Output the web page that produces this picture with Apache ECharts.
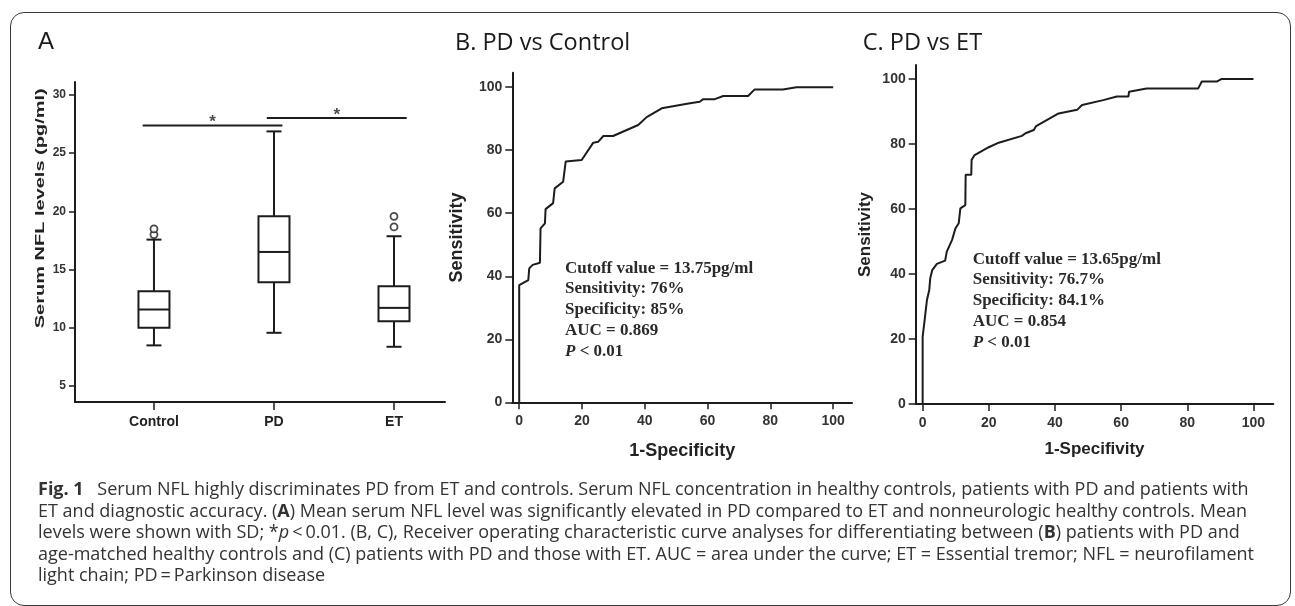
<!DOCTYPE html>
<html>
<head>
<meta charset="utf-8">
<script src="https://cdn.jsdelivr.net/npm/echarts@6/dist/echarts.min.js"></script>
<style>
  html, body { margin: 0; padding: 0; background: #fff; }
  body { width: 1295px; height: 606px; position: relative; overflow: hidden; }
  .frame {
    position: absolute; left: 10px; top: 12px; width: 1281px; height: 594px;
    border: 1px solid #3a3a3a; border-radius: 14px; box-sizing: border-box;
  }
  #chart { position: absolute; left: 0; top: 0; width: 1295px; height: 606px; }
  .caption {
    position: absolute; left: 38px; top: 478px;
    font-family: "Open Sans", "Noto Sans", sans-serif; font-size: 18px; line-height: 21.5px;
    color: #333; white-space: nowrap;
  }
  .caption b { font-weight: 700; }
</style>
</head>
<body>
<div class="frame"></div>
<div id="chart"></div>
<div class="caption">
<b>Fig. 1</b>&ensp; Serum NFL highly discriminates PD from ET and controls. Serum NFL concentration in healthy controls, patients with PD and patients with<br>
ET and diagnostic accuracy. (<b>A</b>) Mean serum NFL level was significantly elevated in PD compared to ET and nonneurologic healthy controls. Mean<br>
levels were shown with SD; *<i>p</i>&thinsp;&lt;&thinsp;0.01. (B, C), Receiver operating characteristic curve analyses for differentiating between (<b>B</b>) patients with PD and<br>
age-matched healthy controls and (C) patients with PD and those with ET. AUC = area under the curve; ET = Essential tremor; NFL = neurofilament<br>
light chain; PD&thinsp;=&thinsp;Parkinson disease
</div>
<script>
// panel A: box plot values (pg/ml)
const groups = ['Control', 'PD', 'ET'];
const whiskerLow = [8.49, 9.57, 8.37];
const q1 = [10.0, 13.91, 10.57];
const median = [11.57, 16.51, 11.71];
const q3 = [13.14, 19.57, 13.57];
const whiskerHigh = [17.57, 26.86, 17.86];
const outliers = [[1, 18.0], [1, 18.49], [3, 18.66], [3, 19.57]];
// significance bars: [from, to, level]
const sigBars = [[0.906, 2.07, 27.37], [1.94, 3.106, 28.0]];
const yTicksA = [5, 10, 15, 20, 25, 30];

// panel B / C: ROC curves [1-specificity, sensitivity]
const rocPdControl = [
  [0, 0], [0, 37.2], [2.9, 38.8], [3.2, 42.5], [4.3, 43.6], [6.6, 44.3], [6.8, 55.2],
  [8.2, 56.8], [8.4, 61.3], [10.8, 63.2], [11.3, 67.9], [14, 70], [14.8, 76.4],
  [19.9, 76.9], [23.6, 82.4], [25.2, 82.7], [26.8, 84.5], [29.9, 84.5], [37.9, 88],
  [40.6, 90.5], [45.4, 93.3], [54.4, 94.9], [57.5, 95.4], [58.6, 96.2], [62.3, 96.2],
  [65, 97.2], [72.9, 97.2], [75, 99.3], [84, 99.3], [88.3, 100], [100, 100]
];
const rocPdEt = [
  [0, 0], [0, 20.7], [0.6, 25.8], [1.3, 32], [2, 35.1], [2.3, 38.7], [2.9, 41.2],
  [4.3, 43.1], [6.8, 44.1], [7.3, 46.9], [8.9, 50.5], [9.9, 54], [10.9, 55.6],
  [11.4, 60.2], [12.9, 61.2], [13, 70.5], [14.7, 70.5], [14.8, 75.1], [15.7, 76.6],
  [20, 79], [23, 80.4], [30, 82.5], [31.1, 83.3], [33.6, 84.3], [34.3, 85.5],
  [41.1, 89.4], [46.7, 90.5], [48.2, 92], [54.6, 93.5], [58.7, 94.6], [62.2, 94.6],
  [62.4, 96.1], [67.7, 97.1], [83.3, 97.1], [84.4, 99.2], [88.9, 99.2], [90.4, 100], [100, 100]
];
const rocTicks = [0, 20, 40, 60, 80, 100];
const statsB = ['Cutoff value = 13.75pg/ml', 'Sensitivity: 76%', 'Specificity: 85%', 'AUC = 0.869', '{i|P} < 0.01'];
const statsC = ['Cutoff value = 13.65pg/ml', 'Sensitivity: 76.7%', 'Specificity: 84.1%', 'AUC = 0.854', '{i|P} < 0.01'];

const ink = '#1c1c1c';
const sans = '"Liberation Sans", Arial, sans-serif';
const serif = '"Liberation Serif", "Times New Roman", serif';

const chart = echarts.init(document.getElementById('chart'), null, { renderer: 'canvas' });

// y name of panel A is stretched along its length in the original
const nameA = 'Serum NFL levels (pg/ml)';
const ctx = document.createElement('canvas').getContext('2d');
ctx.font = 'bold 13px "Liberation Sans"';
const nameAScale = 240 / ctx.measureText(nameA).width;

const baseAxis = (extra) => Object.assign({
  type: 'value',
  splitLine: { show: false },
  axisLine: { show: true, onZero: false, lineStyle: { color: ink, width: 2 } },
  axisTick: { show: true, length: 7, lineStyle: { color: ink, width: 1.5 } },
  axisLabel: { color: '#333', fontFamily: sans, fontWeight: 'bold', fontSize: 14 }
}, extra);

const rocStats = (lines, x, y) => ({
  type: 'text', x: x, y: y, silent: true,
  style: {
    text: lines.join('\n'), fontFamily: serif, fontWeight: 'bold', fontSize: 17,
    lineHeight: 20.8, fill: '#2a2a2a', align: 'left', verticalAlign: 'top',
    rich: { i: { fontFamily: serif, fontWeight: 'bold', fontStyle: 'italic', fontSize: 17, lineHeight: 20.8, fill: '#2a2a2a' } }
  }
});

const option = {
  animation: false,
  grid: [
    { left: 75, top: 82, width: 370, height: 320 },
    { left: 512.3, top: 72.7, width: 339.7, height: 329.6 },
    { left: 915.7, top: 65, width: 357.6, height: 339 }
  ],
  xAxis: [
    baseAxis({
      gridIndex: 0, min: 0.342, max: 3.425,
      axisTick: { show: true, length: 8, customValues: [1, 2, 3], lineStyle: { color: ink, width: 1.5 } },
      axisLabel: {
        customValues: [1, 2, 3], formatter: v => groups[Math.round(v) - 1],
        color: '#222', fontFamily: sans, fontWeight: 'bold', fontSize: 14, margin: 13
      }
    }),
    baseAxis({
      gridIndex: 1, min: -2.2, max: 106,
      axisTick: { show: true, length: 7, customValues: rocTicks, lineStyle: { color: ink, width: 1.5 } },
      axisLabel: { customValues: rocTicks, color: '#333', fontFamily: sans, fontWeight: 'bold', fontSize: 14, margin: 12 },
      name: '1-Specificity', nameLocation: 'middle', nameGap: 40,
      nameTextStyle: { color: '#222', fontFamily: sans, fontWeight: 'bold', fontSize: 18 }
    }),
    baseAxis({
      gridIndex: 2, min: -2.1, max: 106,
      axisTick: { show: true, length: 7, customValues: rocTicks, lineStyle: { color: ink, width: 1.5 } },
      axisLabel: { customValues: rocTicks, color: '#333', fontFamily: sans, fontWeight: 'bold', fontSize: 14, margin: 12 },
      name: '1-Specifivity', nameLocation: 'middle', nameGap: 37,
      nameTextStyle: { color: '#222', fontFamily: sans, fontWeight: 'bold', fontSize: 17 }
    })
  ],
  yAxis: [
    baseAxis({
      gridIndex: 0, min: 3.63, max: 31.1,
      axisTick: { show: true, length: 6, customValues: yTicksA, lineStyle: { color: ink, width: 1.5 } },
      axisLabel: { customValues: yTicksA, color: '#333', fontFamily: sans, fontWeight: 'bold', fontSize: 12, margin: 9 }
    }),
    baseAxis({
      gridIndex: 1, min: 0, max: 104.6,
      axisTick: { show: true, length: 7, customValues: rocTicks, lineStyle: { color: ink, width: 1.5 } },
      axisLabel: { customValues: rocTicks, color: '#333', fontFamily: sans, fontWeight: 'bold', fontSize: 14, margin: 10 },
      name: 'Sensitivity', nameLocation: 'middle', nameGap: 46,
      nameTextStyle: { color: '#222', fontFamily: sans, fontWeight: 'bold', fontSize: 18 }
    }),
    baseAxis({
      gridIndex: 2, min: 0, max: 104.3,
      axisTick: { show: true, length: 7, customValues: rocTicks, lineStyle: { color: ink, width: 1.5 } },
      axisLabel: { customValues: rocTicks, color: '#333', fontFamily: sans, fontWeight: 'bold', fontSize: 14, margin: 10 },
      name: 'Sensitivity', nameLocation: 'middle', nameGap: 42,
      nameTextStyle: { color: '#222', fontFamily: sans, fontWeight: 'bold', fontSize: 17 }
    })
  ],
  graphic: [
    { type: 'text', x: 38, y: 42, style: { text: 'A', fontFamily: sans, fontSize: 24, fill: '#1a1a1a', verticalAlign: 'middle' } },
    { type: 'text', x: 455, y: 43, style: { text: 'B. PD vs Control', fontFamily: '"Open Sans", sans-serif', fontSize: 23.5, fill: '#1a1a1a', verticalAlign: 'middle' } },
    { type: 'text', x: 862.7, y: 43, style: { text: 'C. PD vs ET', fontFamily: '"Open Sans", sans-serif', fontSize: 23.5, fill: '#1a1a1a', verticalAlign: 'middle' } },
    {
      type: 'text', x: 40.7, y: 208.3, rotation: Math.PI / 2, scaleX: nameAScale,
      style: { text: nameA, fontFamily: sans, fontWeight: 'bold', fontSize: 13, fill: '#222', align: 'center', verticalAlign: 'middle' }
    },
    rocStats(statsB, 565, 257.8),
    rocStats(statsC, 972.7, 248.8)
  ],
  series: [
    {
      type: 'custom', xAxisIndex: 0, yAxisIndex: 0,
      data: groups.map((g, i) => [i + 1, whiskerLow[i], q1[i], median[i], q3[i], whiskerHigh[i]]),
      encode: { x: 0, y: [1, 2, 3, 4, 5] },
      renderItem: function (params, api) {
        const x = api.value(0);
        const lo = api.coord([x, api.value(1)]);
        const b1 = api.coord([x, api.value(2)]);
        const md = api.coord([x, api.value(3)]);
        const b3 = api.coord([x, api.value(4)]);
        const hi = api.coord([x, api.value(5)]);
        const cx = lo[0], bw = 31, cw = 15;
        const st = { stroke: ink, lineWidth: 2, fill: null };
        return {
          type: 'group',
          children: [
            { type: 'line', shape: { x1: cx, y1: hi[1], x2: cx, y2: b3[1] }, style: st },
            { type: 'line', shape: { x1: cx, y1: b1[1], x2: cx, y2: lo[1] }, style: st },
            { type: 'line', shape: { x1: cx - cw / 2, y1: hi[1], x2: cx + cw / 2, y2: hi[1] }, style: st },
            { type: 'line', shape: { x1: cx - cw / 2, y1: lo[1], x2: cx + cw / 2, y2: lo[1] }, style: st },
            { type: 'rect', shape: { x: cx - bw / 2, y: b3[1], width: bw, height: b1[1] - b3[1] }, style: { stroke: ink, lineWidth: 2, fill: '#fff' } },
            { type: 'line', shape: { x1: cx - bw / 2, y1: md[1], x2: cx + bw / 2, y2: md[1] }, style: st }
          ]
        };
      }
    },
    {
      type: 'scatter', xAxisIndex: 0, yAxisIndex: 0, data: outliers,
      symbol: 'circle', symbolSize: 7,
      itemStyle: { color: '#fff', borderColor: ink, borderWidth: 1.8 }
    },
    ...sigBars.map(s => ({
      type: 'line', xAxisIndex: 0, yAxisIndex: 0, showSymbol: false,
      data: [[s[0], s[2]], [s[1], s[2]]],
      lineStyle: { color: ink, width: 2 }
    })),
    {
      type: 'scatter', xAxisIndex: 0, yAxisIndex: 0, symbolSize: 0,
      data: sigBars.map(s => [(s[0] + s[1]) / 2, s[2]]),
      label: {
        show: true, position: 'inside', offset: [0, -3], formatter: '*',
        color: ink, fontFamily: sans, fontWeight: 'bold', fontSize: 17
      }
    },
    {
      type: 'line', xAxisIndex: 1, yAxisIndex: 1, data: rocPdControl,
      showSymbol: false, lineStyle: { color: ink, width: 2 }
    },
    {
      type: 'line', xAxisIndex: 2, yAxisIndex: 2, data: rocPdEt,
      showSymbol: false, lineStyle: { color: ink, width: 2 }
    }
  ]
};

chart.setOption(option);
</script>
</body>
</html>
